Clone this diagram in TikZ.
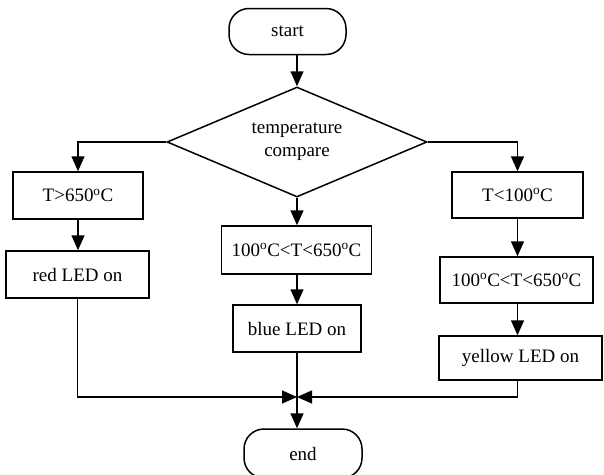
\documentclass[tikz,border=0pt]{standalone}
\usepackage{fontspec}
\setmainfont{Liberation Serif}
\usetikzlibrary{arrows.meta,shapes.geometric}

\newcommand{\dg}{\textsuperscript{o}}

\begin{document}
\begin{tikzpicture}[x=1pt,y=1pt,
  every node/.style={font=\fontsize{19}{23}\selectfont},
  box/.style={draw, line width=1.5pt, inner sep=0pt, align=center},
  term/.style={box, rounded corners=20pt},
  decision/.style={draw, diamond, line width=1.5pt, inner sep=0pt, align=center,
    shape aspect=2.36, minimum width=260pt, minimum height=110pt},
  flow/.style={line width=1.5pt, -{Triangle[length=15pt,width=13pt]}}]

\useasboundingbox (0,0) rectangle (604,-474);

% terminals and decision
\node[term, minimum width=117pt, minimum height=46pt] (start) at (287.5,-31.5) {start};
\node[decision] (cmp) at (297,-142) {temperature\\compare};
\node[term, minimum width=118pt, minimum height=49pt] (end) at (303,-453.5) {end};

% left branch
\node[box, minimum width=130pt, minimum height=47pt] (hot) at (78,-195.5) {T>650\dg C};
\node[box, minimum width=143pt, minimum height=47pt] (red) at (77.5,-274.5) {red LED on};

% middle branch
\node[box, minimum width=150pt, minimum height=48pt] (midT) at (296.5,-250) {100\dg C<T<650\dg C};
\node[box, minimum width=128pt, minimum height=47pt] (blue) at (297,-328.5) {blue LED on};

% right branch
\node[box, minimum width=131pt, minimum height=46pt] (cold) at (517.5,-195) {T<100\dg C};
\node[box, minimum width=153pt, minimum height=46pt] (rngT) at (516.5,-280) {100\dg C<T<650\dg C};
\node[box, minimum width=163pt, minimum height=44pt] (yellow) at (520.5,-358) {yellow LED on};

% merge point above the end terminal
\coordinate (join) at (297,-397);

% connectors
\draw[flow] (start.south -| cmp.north) -- (cmp.north);
\draw[flow] (cmp.west) -| (hot.north);
\draw[flow] (hot.south) -- (hot.south |- red.north);
\draw[flow] (cmp.south) -- (cmp.south |- midT.north);
\draw[flow] (midT.south -| cmp.south) -- (cmp.south |- blue.north);
\draw[flow] (cmp.east) -| (cold.north);
\draw[flow] (cold.south) -- (cold.south |- rngT.north);
\draw[flow] (cold.south |- rngT.south) -- (cold.south |- yellow.north);
\draw[flow] (red.south) |- (join);
\draw[flow] (cold.south |- yellow.south) |- (join);
\draw[flow] (blue.south -| join) -- (join |- end.north);
\end{tikzpicture}
\end{document}
